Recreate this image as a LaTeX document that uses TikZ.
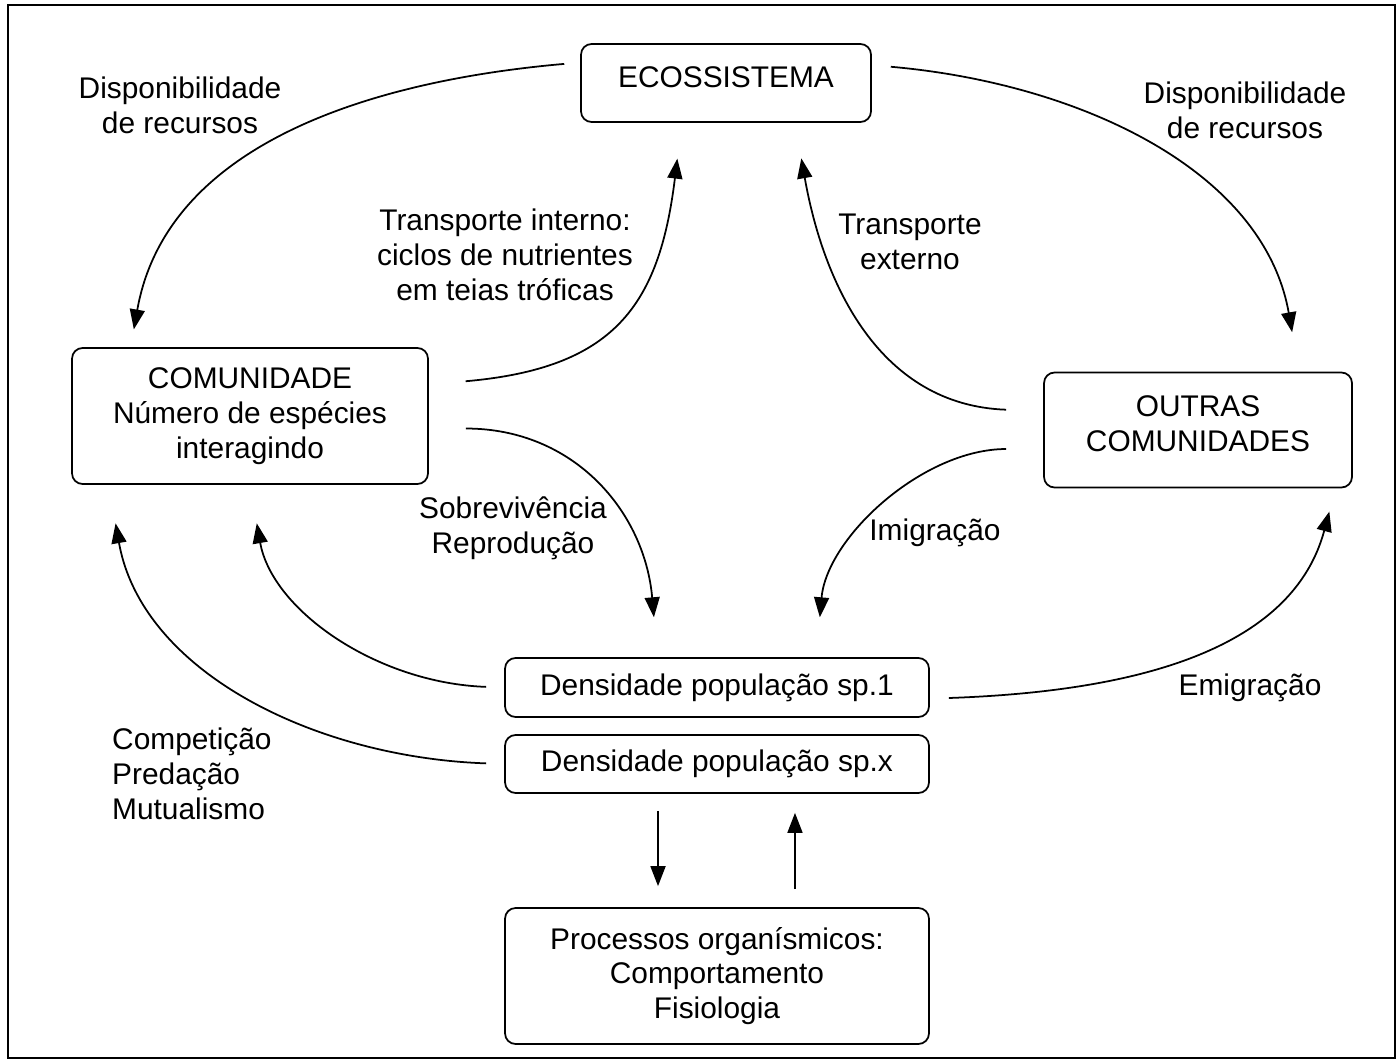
\documentclass[tikz,border=0pt]{standalone}
\usepackage{fontspec}
\setmainfont{Liberation Sans}
\usetikzlibrary{arrows.meta}

\begin{document}
\begin{tikzpicture}[x=0.02cm, y=-0.02cm,
    font=\fontsize{17}{19.8}\selectfont,
    box/.style={draw, rounded corners=6pt, line width=1pt, align=center, inner sep=0pt},
    lbl/.style={align=center},
    arr/.style={line width=1pt, -{Triangle[length=0.4cm, width=0.3cm]}}]
    \useasboundingbox (0,0) rectangle (1400,1062);

    % outer frame
    \draw[line width=1.2pt] (8,5) rectangle (1395,1058);

    % levels
    \node[box, minimum width=5.8cm, minimum height=1.56cm, text depth=0.25cm] (eco) at (726,83) {ECOSSISTEMA};
    \node[box, minimum width=7.12cm, minimum height=2.72cm] (com) at (250,416) {COMUNIDADE\\N\'umero de esp\'ecies\\interagindo};
    \node[box, minimum width=6.16cm, minimum height=2.3cm, text depth=0.25cm] (outras) at (1198,430) {OUTRAS\\COMUNIDADES};
    \node[box, minimum width=8.48cm, minimum height=1.18cm] (spa) at (717,687.5) {Densidade popula\c{c}\~ao sp.1};
    \node[box, minimum width=8.48cm, minimum height=1.16cm] (spx) at (717,764) {Densidade popula\c{c}\~ao sp.x};
    \node[box, minimum width=8.48cm, minimum height=2.72cm] (proc) at (717,976) {Processos organ\'ismicos:\\Comportamento\\Fisiologia};

    % labels
    \node[lbl] (displ) at (180,105) {Disponibilidade\\de recursos};
    \node[lbl] (dispr) at (1245,110) {Disponibilidade\\de recursos};
    \node[lbl] (tint) at (505,255) {Transporte interno:\\ciclos de nutrientes\\em teias tr\'oficas};
    \node[lbl] (text) at (910,242) {Transporte\\externo};
    \node[lbl] (sobr) at (513,528) {Sobreviv\^encia\\Reprodu\c{c}\~ao};
    \node[lbl] (imig) at (935,533) {Imigra\c{c}\~ao};
    \node[lbl] (emig) at (1250,688) {Emigra\c{c}\~ao};
    \node[align=left, anchor=west] (inter) at (106,774) {Competi\c{c}\~ao\\Preda\c{c}\~ao\\Mutualismo};

    % resources
    \draw[arr, shorten <=0.32cm, shorten >=0.36cm] (eco.172) to[out=185, in=80] (com.150);
    \draw[arr, shorten <=0.38cm, shorten >=0.8cm] (eco.7) to[out=-5, in=100] (outras.30);

    % transport
    \draw[arr, shorten <=0.74cm, shorten >=0.72cm] (com.10) to[out=5, in=-97, looseness=1.3] (eco.222);
    \draw[arr, shorten <=0.74cm, shorten >=0.72cm] (outras.173) to[out=178, in=-80, looseness=1.1] (eco.330);

    % to populations
    \draw[arr, shorten <=0.74cm, shorten >=0.8cm] (com.-4) to[out=0, in=95, looseness=1.15] (spa.153);
    \draw[arr, shorten <=0.74cm, shorten >=0.8cm] (outras.187) to[out=180, in=85] (spa.17);

    % back to the communities
    \draw[arr, shorten <=0.36cm, shorten >=0.78cm] (spa.west) to[out=178, in=-80] (com.south);
    \draw[arr, shorten <=0.36cm, shorten >=0.78cm] (spx.west) to[out=178, in=-80] (com.206);
    \draw[arr, shorten <=0.38cm, shorten >=0.48cm] (spa.-3) to[out=2, in=-105] (outras.-23);

    % organisms
    \draw[arr, shorten <=0.34cm, shorten >=0.42cm] ([xshift=-1.18cm]spx.south) -- ([xshift=-1.18cm]proc.north);
    \draw[arr, shorten <=0.36cm, shorten >=0.38cm] ([xshift=1.56cm]proc.north) -- ([xshift=1.56cm]spx.south);
\end{tikzpicture}
\end{document}
